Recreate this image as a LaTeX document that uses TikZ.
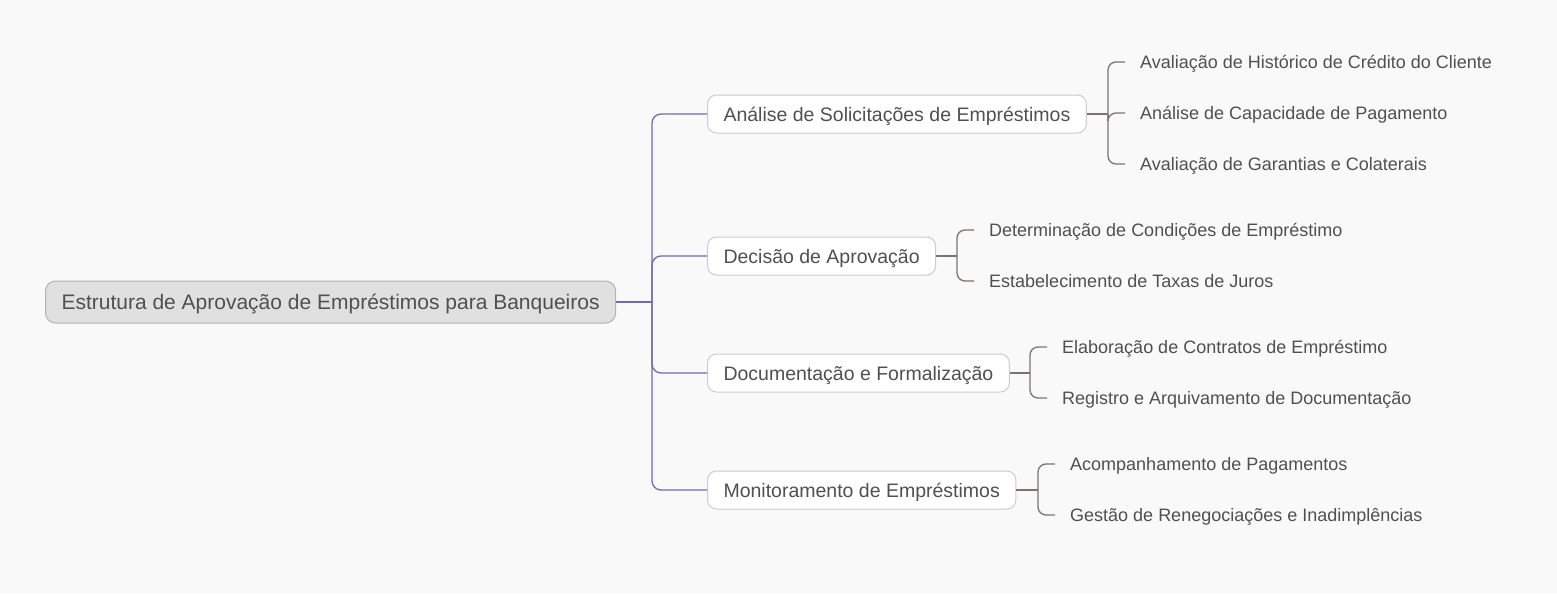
\documentclass[tikz,border=0pt]{standalone}
\usepackage{fontspec}
\setmainfont{Liberation Sans}
\definecolor{bgcol}{HTML}{F9F9F9}
\definecolor{txtcol}{HTML}{505050}
\definecolor{trunkcol}{HTML}{7468B0}
\definecolor{brackcol}{HTML}{7A7470}
\begin{document}
\begin{tikzpicture}[x=1pt,y=-1pt,
    rootbox/.style={draw=black!30,fill=black!12,rounded corners=10pt,line width=1pt,
        minimum height=42pt,inner xsep=16pt,text height=15pt,text depth=0pt,
        anchor=west,text=txtcol,font=\fontsize{21}{24}\selectfont},
    topicbox/.style={draw=black!20,fill=white,rounded corners=9pt,line width=1pt,
        minimum height=38pt,inner xsep=16pt,text height=14pt,text depth=0pt,
        anchor=west,text=txtcol,font=\fontsize{19.5}{22}\selectfont},
    leaf/.style={inner xsep=15pt,inner ysep=2pt,text height=13pt,text depth=0pt,
        anchor=west,text=txtcol,font=\fontsize{18}{21}\selectfont},
    trunk/.style={draw=trunkcol,line width=1.3pt,rounded corners=9pt},
    brack/.style={draw=brackcol,line width=1.3pt,rounded corners=8pt}]
    \fill[bgcol] (0,0) rectangle (1557,594);
    \useasboundingbox (0,0) rectangle (1557,594);

    % root and main topics
    \node[rootbox] (root) at (45,302) {Estrutura de Aprovação de Empréstimos para Banqueiros};
    \node[topicbox] (analise) at (707,114) {Análise de Solicitações de Empréstimos};
    \node[topicbox] (decisao) at (707,256) {Decisão de Aprovação};
    \node[topicbox] (docum) at (707,373) {Documentação e Formalização};
    \node[topicbox] (monit) at (707,490) {Monitoramento de Empréstimos};

    % sub topics
    \node[leaf] (hist) at (1125,62) {Avaliação de Histórico de Crédito do Cliente};
    \node[leaf] (capac) at (1125,113) {Análise de Capacidade de Pagamento};
    \node[leaf] (garant) at (1125,164) {Avaliação de Garantias e Colaterais};
    \node[leaf] (condic) at (974,230) {Determinação de Condições de Empréstimo};
    \node[leaf] (taxas) at (974,281) {Estabelecimento de Taxas de Juros};
    \node[leaf] (contr) at (1047,347) {Elaboração de Contratos de Empréstimo};
    \node[leaf] (regis) at (1047,398) {Registro e Arquivamento de Documentação};
    \node[leaf] (acomp) at (1055,464) {Acompanhamento de Pagamentos};
    \node[leaf] (gestao) at (1055,515) {Gestão de Renegociações e Inadimplências};

    % trunk
    \coordinate (hub) at (652,302);
    \draw[trunk] (root.east) -- (hub);
    \foreach \t in {analise,decisao,docum,monit}
        \draw[trunk] (hub) |- (\t.west);

    % brackets
    \coordinate (k1) at (1108,114);
    \coordinate (k2) at (957,256);
    \coordinate (k3) at (1030,373);
    \coordinate (k4) at (1038,490);
    \draw[brack] (analise.east) -- (k1);
    \draw[brack] (decisao.east) -- (k2);
    \draw[brack] (docum.east) -- (k3);
    \draw[brack] (monit.east) -- (k4);
    \foreach \k/\l in {k1/hist,k1/capac,k1/garant,k2/condic,k2/taxas,k3/contr,k3/regis,k4/acomp,k4/gestao}
        \draw[brack] (\k) |- (\l.west);
\end{tikzpicture}
\end{document}
